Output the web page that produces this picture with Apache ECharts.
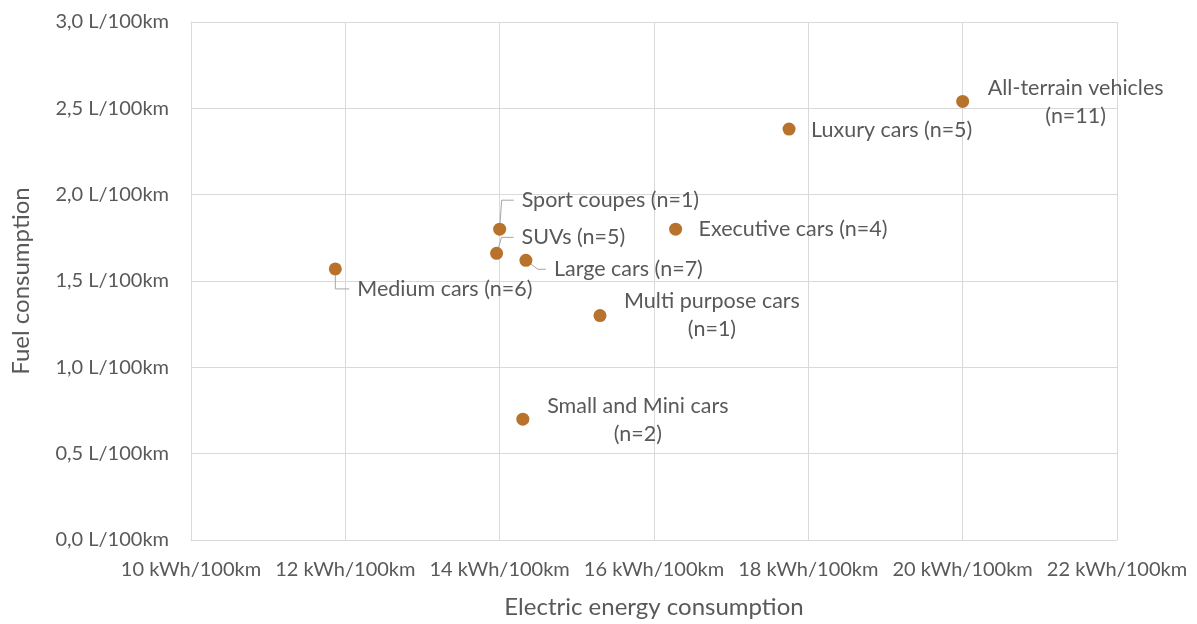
<!DOCTYPE html>
<html>
<head>
<meta charset="utf-8">
<script src="https://cdn.jsdelivr.net/npm/echarts@6/dist/echarts.min.js"></script>
<style>
html,body{margin:0;padding:0;background:#fff;}
#chart{width:1197px;height:624px;}
</style>
</head>
<body>
<div id="chart"></div>
<script>
// ---- data ----
const categories = ['Medium cars (n=6)', 'SUVs (n=5)', 'Sport coupes (n=1)', 'Large cars (n=7)', 'Executive cars (n=4)', 'Luxury cars (n=5)', 'All-terrain vehicles\n(n=11)', 'Multi purpose cars\n(n=1)', 'Small and Mini cars\n(n=2)'];
const electricKWh = [11.87, 13.96, 14.00, 14.34, 16.28, 17.75, 20.00, 15.30, 14.30];
const fuelL = [1.57, 1.66, 1.80, 1.62, 1.80, 2.38, 2.54, 1.30, 0.70];
const xTicks = [10, 12, 14, 16, 18, 20, 22];
const yTicks = [0, 0.5, 1.0, 1.5, 2.0, 2.5, 3.0];

// label placement (pixel offsets of the text from the point centre), leader line length
const labelPlacement = [
  {dx: 22, dy: 20, align: 'left', lead: 14},
  {dx: 25, dy: -16, align: 'left', lead: 12},
  {dx: 22, dy: -29, align: 'left', lead: 12},
  {dx: 28, dy: 9, align: 'left', lead: 8},
  {dx: 23, dy: 0, align: 'left', lead: 0},
  {dx: 22, dy: 1, align: 'left', lead: 0},
  {dx: 113, dy: 1, align: 'center', lead: 0},
  {dx: 112, dy: 0, align: 'center', lead: 0},
  {dx: 115, dy: 1, align: 'center', lead: 0}
];

const SYM = 13;
const FONT = 'Lato';
const TXT = '#595959';
const GRID = '#D9D9D9';
const PAD = 8;

const seriesData = categories.map((name, i) => {
  const p = labelPlacement[i];
  const hasLead = p.lead > 0;
  const shift = hasLead ? PAD : 0;
  return {
    name: name,
    value: [electricKWh[i], fuelL[i]],
    label: {
      position: [p.dx - shift + SYM / 2, p.dy + SYM / 2],
      align: p.align,
      verticalAlign: 'middle',
      padding: hasLead ? [0, 0, 0, PAD] : 0
    },
    labelLine: {show: hasLead, length2: p.lead}
  };
});

const chart = echarts.init(document.getElementById('chart'), null, {renderer: 'canvas'});
chart.setOption({
  animation: false,
  backgroundColor: '#fff',
  grid: {left: 191, right: 80, top: 22, bottom: 83, containLabel: false},
  xAxis: {
    type: 'value',
    min: xTicks[0], max: xTicks[xTicks.length - 1], interval: 2,
    name: 'Electric energy consumption',
    nameLocation: 'middle', nameGap: 55,
    nameTextStyle: {color: TXT, fontFamily: FONT, fontSize: 24},
    axisLine: {show: true, lineStyle: {color: GRID}},
    axisTick: {show: false},
    splitLine: {show: true, lineStyle: {color: GRID, width: 1}},
    axisLabel: {color: TXT, fontFamily: FONT, fontSize: 20, margin: 20,
      formatter: v => v + ' kWh/100km'}
  },
  yAxis: {
    type: 'value',
    min: yTicks[0], max: yTicks[yTicks.length - 1], interval: 0.5,
    name: 'Fuel consumption',
    nameLocation: 'middle', nameGap: 158,
    nameTextStyle: {color: TXT, fontFamily: FONT, fontSize: 24},
    axisLine: {show: true, lineStyle: {color: GRID}},
    axisTick: {show: false},
    splitLine: {show: true, lineStyle: {color: GRID, width: 1}},
    axisLabel: {color: TXT, fontFamily: FONT, fontSize: 20, margin: 22,
      formatter: v => v.toFixed(1).replace('.', ',') + ' L/100km'}
  },
  series: [{
    type: 'scatter',
    symbol: 'circle',
    symbolSize: SYM,
    itemStyle: {color: '#B8722C', opacity: 1},
    data: seriesData,
    label: {
      show: true,
      formatter: '{b}',
      color: TXT,
      fontFamily: FONT,
      fontSize: 21.5,
      lineHeight: 28
    },
    labelLine: {
      show: false,
      lineStyle: {color: '#A6A6A6', width: 1}
    }
  }]
});
</script>
</body>
</html>
